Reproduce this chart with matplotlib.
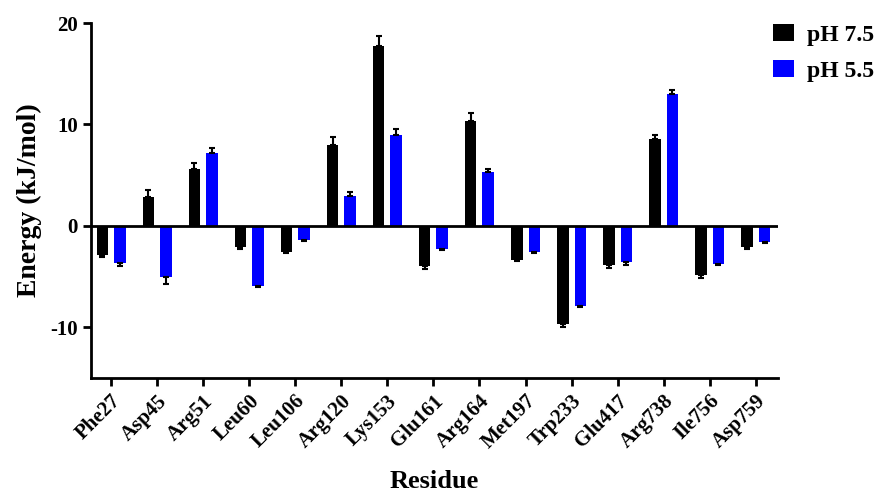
import numpy as np
import matplotlib.pyplot as plt

residues = ['Phe27', 'Asp45', 'Arg51', 'Leu60', 'Leu106', 'Arg120', 'Lys153', 'Glu161',
            'Arg164', 'Met197', 'Trp233', 'Glu417', 'Arg738', 'Ile756', 'Asp759']
ph75 = [-2.9, 2.85, 5.6, -2.1, -2.6, 8.0, 17.7, -4.0, 10.35, -3.35, -9.7, -3.85, 8.55, -4.9, -2.1]
ph75_err = [0.2, 0.7, 0.6, 0.15, 0.1, 0.75, 1.0, 0.25, 0.75, 0.15, 0.3, 0.35, 0.45, 0.2, 0.15]
ph55 = [-3.7, -5.05, 7.2, -5.9, -1.4, 2.95, 9.0, -2.3, 5.3, -2.6, -7.9, -3.6, 13.0, -3.75, -1.55]
ph55_err = [0.3, 0.7, 0.45, 0.1, 0.1, 0.4, 0.6, 0.1, 0.35, 0.1, 0.15, 0.25, 0.4, 0.15, 0.1]

plt.rcParams['font.family'] = 'Liberation Serif'
plt.rcParams['font.weight'] = 'bold'
plt.rcParams['axes.unicode_minus'] = False

fig = plt.figure(figsize=(8.77, 4.92), dpi=100)
ax = fig.add_axes([0.104, 0.232, 0.783, 0.721])

x = np.arange(len(residues))
w = 0.25
off = 0.19

def one_sided(vals, errs):
    # error bar only points away from zero
    lo = [e if v < 0 else 0 for v, e in zip(vals, errs)]
    hi = [e if v >= 0 else 0 for v, e in zip(vals, errs)]
    return [lo, hi]

ax.bar(x - off, ph75, w, color='black', label='pH 7.5', zorder=2)
ax.errorbar(x - off, ph75, yerr=one_sided(ph75, ph75_err), fmt='none', ecolor='black',
            elinewidth=1.5, capsize=2.5, capthick=1.5, zorder=3)
ax.bar(x + off, ph55, w, color='#0000ff', label='pH 5.5', zorder=2)
ax.errorbar(x + off, ph55, yerr=one_sided(ph55, ph55_err), fmt='none', ecolor='black',
            elinewidth=1.5, capsize=2.5, capthick=1.5, zorder=3)

ax.axhline(0, color='black', lw=2, zorder=4)
ax.set_xlim(-0.43, 14.48)
ax.set_ylim(-15, 20)
ax.set_yticks([-10, 0, 10, 20])
ax.set_xticks(x)
ax.set_xticklabels(residues, rotation=45, ha='right', rotation_mode='anchor', fontsize=15)
ax.tick_params(axis='y', labelsize=15, width=2, length=6)
ax.tick_params(axis='x', width=2, length=6)
for lab in ax.get_yticklabels() + ax.get_xticklabels():
    lab.set_fontweight('bold')

for s in ['top', 'right']:
    ax.spines[s].set_visible(False)
for s in ['left', 'bottom']:
    ax.spines[s].set_linewidth(2)

ax.set_ylabel('Energy (kJ/mol)', fontsize=20, fontweight='bold', labelpad=6)
ax.set_xlabel('Residue', fontsize=19, fontweight='bold', labelpad=12)

fig.legend(loc='upper left', bbox_to_anchor=(0.873, 0.965), frameon=False,
           prop={'size': 17, 'weight': 'bold'}, handlelength=0.9, handleheight=0.72,
           handletextpad=0.55, labelspacing=0.6, borderaxespad=0, borderpad=0.3)

fig.savefig('out.png', dpi=100)
